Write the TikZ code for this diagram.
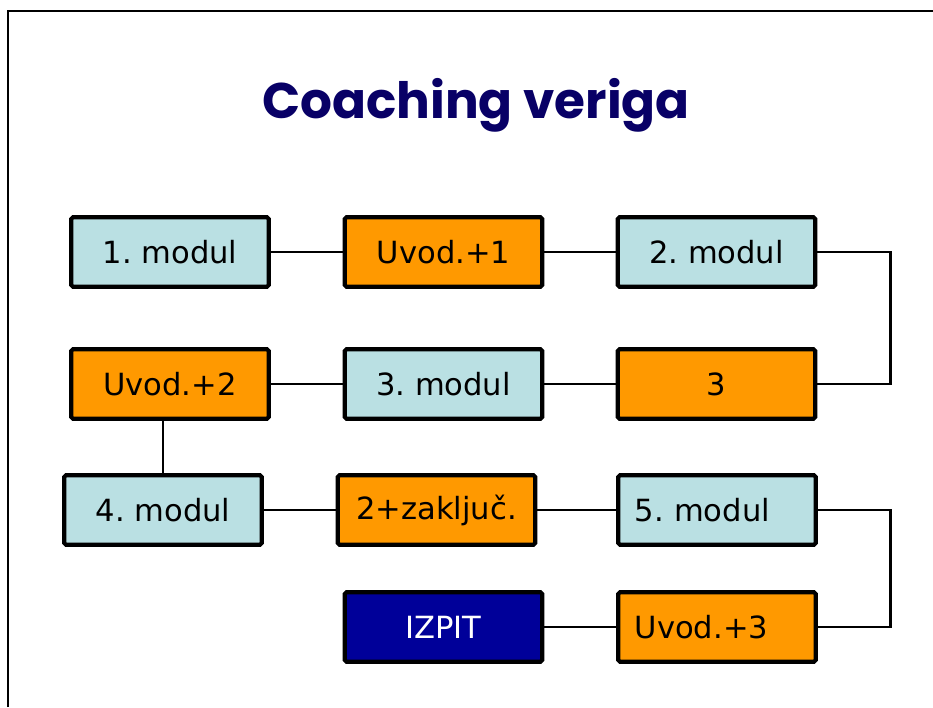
\documentclass[tikz,border=0pt]{standalone}
\usepackage{fontspec}
\setmainfont{DejaVu Sans}
\newfontfamily\titlefont{Poppins}
\usepackage{xcolor}
\usetikzlibrary{positioning, calc}
\frenchspacing

\definecolor{modulblue}{RGB}{186,224,227}
\definecolor{uvodorange}{RGB}{255,153,0}
\definecolor{izpitblue}{RGB}{0,0,153}
\definecolor{titlenavy}{RGB}{8,0,102}

\begin{document}
\begin{tikzpicture}[
            box_style/.style={rectangle, rounded corners=1pt, draw=black, line width=2.3pt, minimum width=3.95cm, minimum height=1.39cm, align=center, font=\fontsize{17.4}{20}\selectfont},
            modul/.style={box_style, fill=modulblue},
            uvod/.style={box_style, fill=uvodorange},
            izpit_box/.style={box_style, fill=izpitblue, text=white},
            leftlabel/.style={text width=3.29cm, align=left, inner xsep=0.33cm},
            chain/.style={line width=1.5pt}
        ]
\useasboundingbox (0,0) rectangle (18.66,14.14);

% Frame
            \draw[line width=1.2pt] (0.16,0) -- (0.16,13.92) -- (18.66,13.92);

% Title
            \node[font=\titlefont\bfseries\fontsize{28.5}{34}\selectfont, text=titlenavy, anchor=base] (title) at (9.52,11.76) {Coaching veriga};

% Chain boxes
            \node[modul] (m1) at (3.40,9.10) {1. modul};
            \node[uvod] (u1) at (8.87,9.10) {Uvod.+1};
            \node[modul] (m2) at (14.33,9.10) {2. modul};
            \node[uvod] (u2) at (3.40,6.46) {Uvod.+2};
            \node[modul] (m3) at (8.87,6.46) {3. modul};
            \node[uvod] (t3) at (14.33,6.46) {3};
            \node[modul] (m4) at (3.26,3.94) {4. modul};
            \node[uvod] (z2) at (8.73,3.94) {2+zaključ.};
            \node[modul, leftlabel] (m5) at (14.34,3.94) {5. modul};
            \node[izpit_box] (izpit) at (8.87,1.60) {IZPIT};
            \node[uvod, leftlabel] (u3) at (14.34,1.60) {Uvod.+3};

% Links
            \draw[chain] (m1) -- (u1);
            \draw[chain] (u1) -- (m2);
            \draw[chain] (m2.east) -- ++(1.46,0) |- (t3.east);
            \draw[chain] (t3) -- (m3);
            \draw[chain] (m3) -- (u2);
            \draw[chain] (m4.north) -- (m4.north |- u2.south);
            \draw[chain] (m4) -- (z2);
            \draw[chain] (z2) -- (m5);
            \draw[chain] (m5.east) -- ++(1.46,0) |- (u3.east);
            \draw[chain] (u3) -- (izpit);

        \end{tikzpicture}
\end{document}
